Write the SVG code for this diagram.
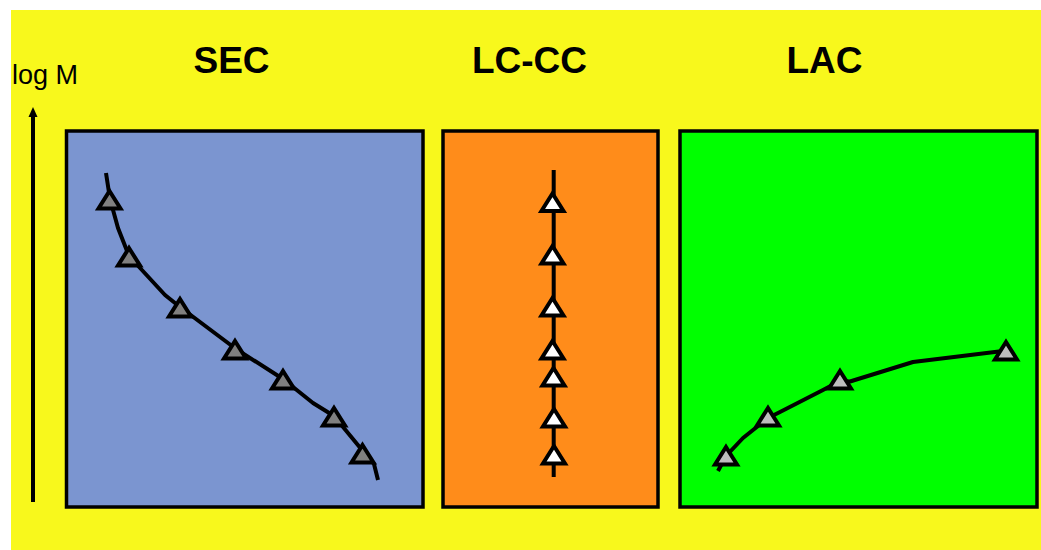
<svg xmlns="http://www.w3.org/2000/svg" width="1041" height="550" viewBox="0 0 1041 550">
  <style>
    .panel { stroke: #000; stroke-width: 3.5; }
    .title { font-family: "Liberation Sans", Arial, sans-serif; font-weight: bold; font-size: 37px; fill: #000; text-anchor: middle; }
    .axis-label { font-family: "Liberation Sans", Arial, sans-serif; font-size: 27px; fill: #000; }
    .curve { fill: none; stroke: #000; stroke-width: 4; stroke-linejoin: round; }
    .tri { stroke: #000; stroke-width: 4; stroke-linejoin: miter; }
    .tri-dark { fill: #808080; }
    .tri-white { fill: #ffffff; }
    .tri-light { fill: #bdbdbd; }
  </style>
  <defs>
    <path id="tri" d="M0,-10 L11,7.5 L-11,7.5 Z"/>
  </defs>

  <!-- backdrop -->
  <rect x="11" y="10" width="1030" height="540" fill="#F8F81C"/>

  <!-- axis -->
  <g id="axis">
    <text class="axis-label" x="12" y="84">log M</text>
    <line x1="33" y1="502" x2="33" y2="117" stroke="#000" stroke-width="4"/>
    <path d="M28.5,117 L33,107 L37.5,117 Z" fill="#000"/>
  </g>

  <!-- SEC panel -->
  <g id="sec">
    <rect class="panel" x="66.5" y="131" width="356.5" height="376" fill="#7B95D0"/>
    <text class="title" x="231.5" y="73">SEC</text>
    <path class="curve" d="M106,173 L110,199 L118,228 L129,256 L165,295 L180,307 L236,349 L283,379 L313,403 L334,416 L362,450 L374,464 L378,480"/>
    <g class="tri tri-dark">
      <use href="#tri" x="109.5" y="201"/>
      <use href="#tri" x="129" y="258"/>
      <use href="#tri" x="180" y="309"/>
      <use href="#tri" x="235" y="351"/>
      <use href="#tri" x="283" y="381"/>
      <use href="#tri" x="334" y="418"/>
      <use href="#tri" x="362.5" y="455"/>
    </g>
  </g>

  <!-- LC-CC panel -->
  <g id="lccc">
    <rect class="panel" x="443" y="131" width="215" height="376" fill="#FF8C1A"/>
    <text class="title" x="529.5" y="73">LC-CC</text>
    <line x1="553.7" y1="170" x2="553.7" y2="477" stroke="#000" stroke-width="4"/>
    <g class="tri tri-white">
      <use href="#tri" x="552.5" y="203.5"/>
      <use href="#tri" x="552.5" y="256"/>
      <use href="#tri" x="552.5" y="308"/>
      <use href="#tri" x="552.5" y="351"/>
      <use href="#tri" x="553.5" y="378"/>
      <use href="#tri" x="554" y="419"/>
      <use href="#tri" x="554" y="456"/>
    </g>
  </g>

  <!-- LAC panel -->
  <g id="lac">
    <rect class="panel" x="680" y="131" width="357" height="376" fill="#00FF00"/>
    <text class="title" x="824.5" y="73">LAC</text>
    <path class="curve" d="M718,471 L726,456 L743,438 L768,418 L780,412 L823,390 L840,381 L850,381.5 L913,362 L1003,351"/>
    <g class="tri tri-light">
      <use href="#tri" x="726" y="457"/>
      <use href="#tri" x="768" y="418"/>
      <use href="#tri" x="840" y="381"/>
      <use href="#tri" x="1006" y="352"/>
    </g>
  </g>
</svg>
